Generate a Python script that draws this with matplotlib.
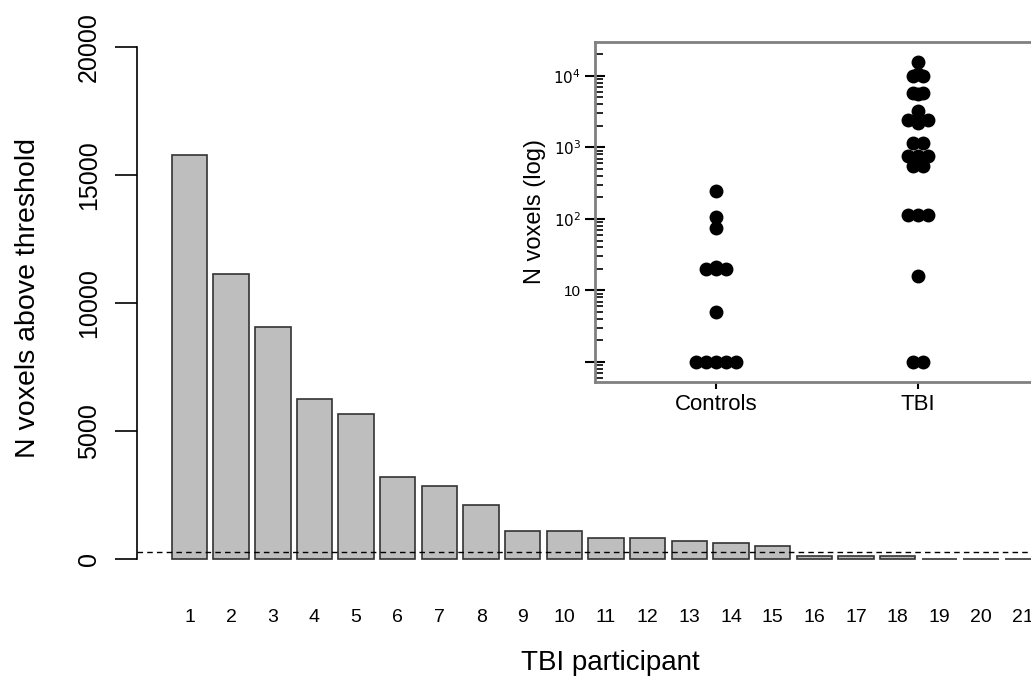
import numpy as np
import matplotlib
matplotlib.use("Agg")
import matplotlib.pyplot as plt

plt.rcParams["font.family"] = ["Liberation Sans", "DejaVu Sans"]

# main bar chart: voxels above threshold per TBI participant
participants = [str(i) for i in range(1, 22)]
n_voxels = [15800, 11130, 9060, 6250, 5660, 3200, 2850, 2110, 1090, 1090,
            830, 830, 715, 625, 510, 130, 130, 130, 0, 0, 0]
threshold = 260

# inset: voxel counts (log scale) per group
controls_vals = [250, 107, 74, 20, 20, 20, 21, 5, 1, 1, 1, 1, 1]
tbi_vals = [15700, 10000, 10000, 10700, 5860, 5860, 5650, 3220, 2460, 2460,
            2460, 2170, 1150, 1150, 755, 755, 755, 548, 548, 115, 115, 115,
            16, 1, 1]
groups = ["Controls", "TBI"]

W, H = 1031, 681
fig = plt.figure(figsize=(W / 100, H / 100), dpi=100)


def px(x0, y0, x1, y1):
    return [x0 / W, 1 - y1 / H, (x1 - x0) / W, (y1 - y0) / H]


ax = fig.add_axes(px(137, 47, 1031, 559))
pos = np.arange(1, len(n_voxels) + 1)
ax.bar(pos, n_voxels, width=0.85, color="#bebebe", edgecolor="#333333",
       linewidth=1.2, clip_on=False, zorder=2)
ax.axhline(threshold, color="black", linewidth=1.0, dashes=(4, 3), zorder=3)
ax.set_xlim(-0.26, 21.2)
ax.set_ylim(0, 20000)
for s in ["top", "right", "bottom"]:
    ax.spines[s].set_visible(False)
ax.spines["left"].set_bounds(0, 20000)
ax.spines["left"].set_linewidth(1.2)
ax.set_yticks([0, 5000, 10000, 15000, 20000])
ax.set_yticklabels(["0", "5000", "10000", "15000", "20000"], rotation=90,
                   va="center", fontsize=18)
ax.tick_params(axis="y", length=16, width=1.2, pad=10)
ax.set_xticks(pos)
ax.set_xticklabels(participants, fontsize=14)
ax.tick_params(axis="x", length=0, pad=36)
fig.text(28 / W, 1 - 298 / H, "N voxels above threshold", rotation=90,
         ha="center", va="center", fontsize=20.5)
fig.text(610 / W, 1 - 663 / H, "TBI participant", ha="center", va="center",
         fontsize=20)

# inset
ins = fig.add_axes(px(595, 42, 1039, 382))
ins.set_facecolor("white")
step = 0.05
for gi, vals in enumerate([controls_vals, tbi_vals], start=1):
    uniq = []
    for v in vals:
        if v not in uniq:
            uniq.append(v)
    for v in uniq:
        n = vals.count(v)
        xs = gi + (np.arange(n) - (n - 1) / 2) * step
        ins.plot(xs, [v] * n, "o", color="black", markersize=9, zorder=3)
ins.set_yscale("log")
ins.set_ylim(0.525, 29850)
ins.set_xlim(0.4, 2.6)
for s in ins.spines.values():
    s.set_color("#808080")
    s.set_linewidth(2)
ins.set_xticks([1, 2])
ins.set_xticklabels(groups, fontsize=16)
ins.tick_params(axis="x", length=5, width=1.5, pad=4)
ins.set_yticks([1, 10, 100, 1000, 10000])
ins.set_yticklabels(["", "10", "$10^2$", "$10^3$", "$10^4$"], fontsize=11)
ins.tick_params(axis="y", which="major", direction="inout", length=14,
                width=1.5, pad=3)
ins.tick_params(axis="y", which="minor", direction="in", length=6, width=1.2)
ins.text(-0.135, 0.5, "N voxels (log)", transform=ins.transAxes, rotation=90,
         ha="center", va="center", fontsize=17)

fig.savefig("out.png", dpi=100)
